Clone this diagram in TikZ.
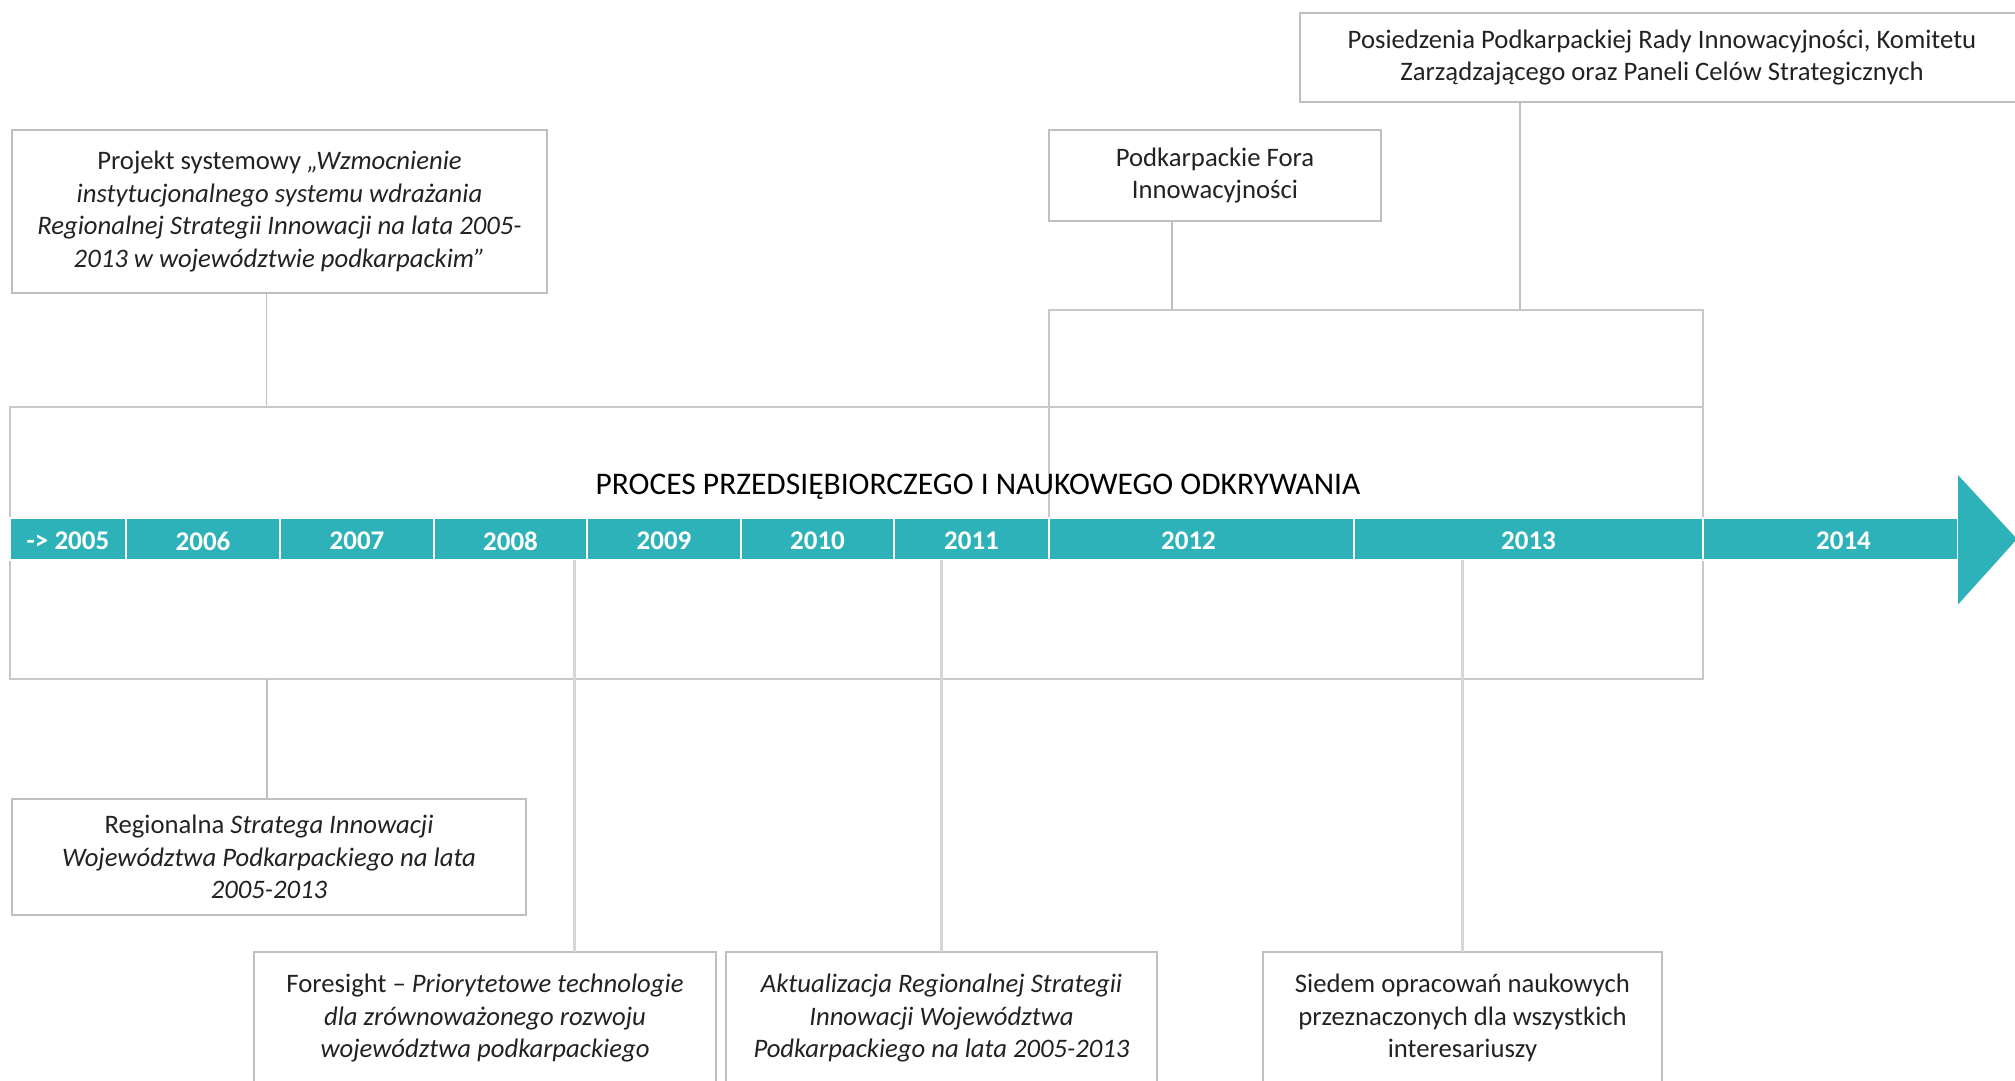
\documentclass[tikz,border=0pt]{standalone}
\usepackage{fontspec}
\setmainfont{Carlito}
\usepackage{xcolor}
\usetikzlibrary{positioning}

\definecolor{barteal}{HTML}{2EB2BA}
\definecolor{boxgray}{HTML}{BFBFBF}
\definecolor{framegray}{HTML}{C8C8C8}
\definecolor{linkgray}{HTML}{D6D6D6}
\definecolor{textdark}{HTML}{222222}

\newcommand{\boxfont}{\fontsize{26.7}{32.5}\selectfont}

\tikzset{
    infobox/.style={draw=boxgray, line width=2pt, align=center, inner sep=0pt, outer sep=0pt, font=\boxfont, text=textdark},
    frame/.style={draw=framegray, line width=1.5pt, inner sep=0pt, outer sep=0pt},
    yearcell/.style={fill=barteal, draw=white, line width=2pt, text=white, inner sep=0pt, outer sep=0pt,
        minimum height=42pt, font=\bfseries\fontsize{27}{32}\selectfont},
    uplink/.style={draw=boxgray, line width=1.5pt},
    lowlink/.style={draw=linkgray, line width=3pt}
}

\begin{document}
\begin{tikzpicture}[x=1pt, y=-1pt]
    \useasboundingbox (0,0) rectangle (2015,1080);

    % Process frames
    \node[frame, minimum width=1693pt, minimum height=272pt] (proces) at (856.5,543) {};
    \node[frame, anchor=north west, minimum width=654pt, minimum height=230pt] (okres) at (1049,310) {};
    \node[font=\fontsize{31.5}{38}\selectfont] (tytul) at (978,487) {PROCES PRZEDSIĘBIORCZEGO I NAUKOWEGO ODKRYWANIA};

    % Timeline bar
    \foreach \xa/\xb/\dx/\yr [count=\i] in {10/126/0/{-> 2005}, 126/280/0/2006, 280/434/0/2007, 434/587/0/2008,
        587/741/0/2009, 741/894/0/2010, 894/1049/0/2011, 1049/1354/-13/2012, 1354/1703/0/2013, 1703/1958/13/2014} {
        \node[yearcell, minimum width={(\xb-\xa)*1pt}] (c\i) at ({(\xa+\xb)/2},539) {};
        \node[text=white, font=\bfseries\fontsize{27}{32}\selectfont] (t\i) at ([xshift=\dx pt, yshift=-2pt]c\i.center) {\yr};
    }
    \fill[barteal] ([yshift=-1pt]c10.north east) -- ++(0,-44) -- ([xshift=59pt]c10.east) -- ++(-59,65.5) -- ([yshift=1pt]c10.south east) -- cycle;

    % Boxes above
    \node[infobox, minimum width=535pt, minimum height=163pt] (projekt) at (279.5,211.5)
        {Projekt systemowy \textit{„Wzmocnienie}\\\textit{instytucjonalnego systemu wdrażania}\\
         \textit{Regionalnej Strategii Innowacji na lata 2005-}\\\textit{2013 w województwie podkarpackim”}};
    \node[infobox, minimum width=332pt, minimum height=91pt] (fora) at (1215,175.5)
        {Podkarpackie Fora\\Innowacyjności};
    \node[infobox, minimum width=724pt, minimum height=89pt] (posiedzenia) at (1662,57.5)
        {Posiedzenia Podkarpackiej Rady Innowacyjności, Komitetu\\Zarządzającego oraz Paneli Celów Strategicznych};

    % Boxes below
    \node[infobox, minimum width=514pt, minimum height=116pt] (regionalna) at (269,857)
        {Regionalna \textit{Stratega Innowacji}\\\textit{Województwa Podkarpackiego na lata}\\\textit{2005-2013}};
    \node[infobox, minimum width=462pt, minimum height=132pt] (foresight) at (485,1018)
        {Foresight – \textit{Priorytetowe technologie}\\\textit{dla zrównoważonego rozwoju}\\\textit{województwa podkarpackiego}};
    \node[infobox, minimum width=431pt, minimum height=132pt] (aktualizacja) at (941.5,1018)
        {\textit{Aktualizacja Regionalnej Strategii}\\\textit{Innowacji Województwa}\\\textit{Podkarpackiego na lata 2005-2013}};
    \node[infobox, minimum width=399pt, minimum height=132pt] (siedem) at (1462.5,1018)
        {Siedem opracowań naukowych\\przeznaczonych dla wszystkich\\interesariuszy};

    % Connectors
    \coordinate (projekt link) at ([xshift=-13pt]projekt.south);
    \coordinate (fora link) at ([xshift=-43pt]fora.south);
    \coordinate (posiedzenia link) at ([xshift=-142pt]posiedzenia.south);
    \coordinate (regionalna link) at ([xshift=-2pt]regionalna.north);
    \coordinate (foresight link) at ([xshift=89pt]foresight.north);
    \draw[uplink] (projekt link) -- (projekt link |- proces.north);
    \draw[uplink] (fora link) -- (fora link |- okres.north);
    \draw[uplink] (posiedzenia link) -- (posiedzenia link |- okres.north);
    \draw[uplink] (regionalna link) -- (regionalna link |- proces.south);
    \draw[lowlink] (foresight link |- c4.south) -- (foresight link);
    \draw[lowlink] (aktualizacja.north |- c7.south) -- (aktualizacja.north);
    \draw[lowlink] (siedem.north |- c9.south) -- (siedem.north);
\end{tikzpicture}
\end{document}
